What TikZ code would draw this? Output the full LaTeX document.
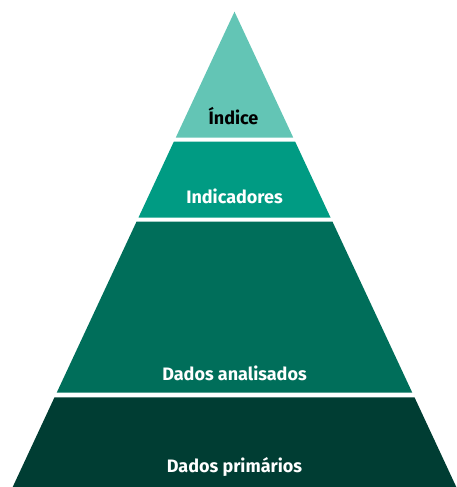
\documentclass[tikz,border=0pt]{standalone}
\usepackage{fontspec}
\setmainfont{Fira Sans}
\definecolor{cidx}{HTML}{63C5B5}
\definecolor{cind}{HTML}{009B83}
\definecolor{cana}{HTML}{006E5A}
\definecolor{cpri}{HTML}{003D33}
\begin{document}
\begin{tikzpicture}[x=1pt,y=-1pt,
  lbl/.style={font=\bfseries\fontsize{18}{21}\selectfont, text=white, inner sep=0pt}]
\useasboundingbox (0,0) rectangle (457,487);
\fill[cidx] (234.5,11.7) -- (293.2,137.5) -- (175.8,137.5) -- cycle;
\fill[cind] (173.8,141.7) -- (295.2,141.7) -- (330.5,217.5) -- (138.5,217.5) -- cycle;
\fill[cana] (136.5,221.7) -- (332.5,221.7) -- (412.3,392.7) -- (56.7,392.7) -- cycle;
\fill[cpri] (54.5,397.3) -- (414.5,397.3) -- (456.3,487) -- (12.7,487) -- cycle;
\node[lbl, text=black] (idx) at (233.5,116.5) {Índice};
\node[lbl] (ind) at (234.5,196.5) {Indicadores};
\node[lbl] (ana) at (234.5,373.5) {Dados analisados};
\node[lbl] (pri) at (234.5,466.5) {Dados primários};
\end{tikzpicture}
\end{document}
